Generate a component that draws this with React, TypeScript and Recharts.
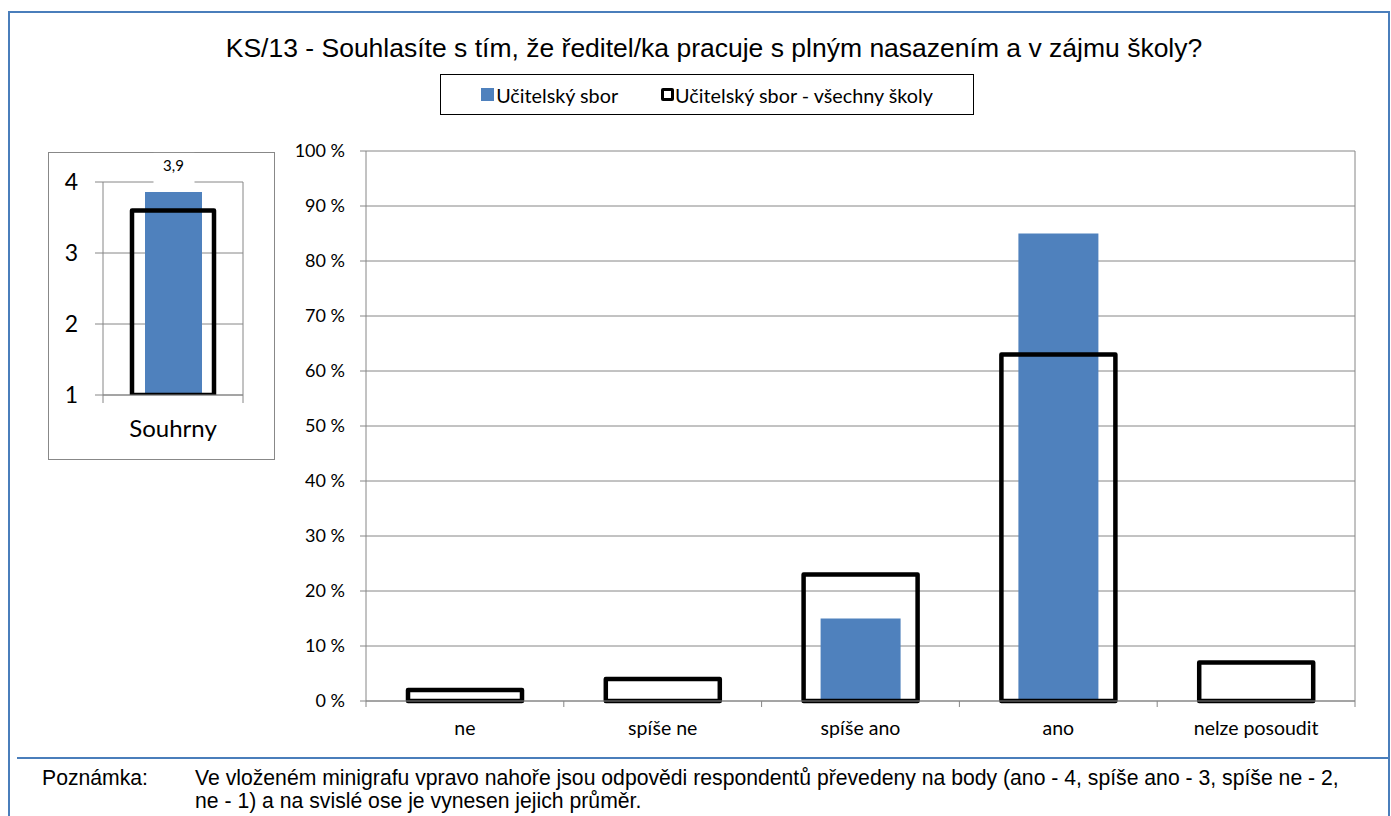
import React from 'react';
import { BarChart, Bar, XAxis, YAxis, CartesianGrid, LabelList } from 'recharts';

// ---- data ----
const categories = ['ne', 'spíše ne', 'spíše ano', 'ano', 'nelze posoudit'];
const schoolValues = [0, 0, 15, 85, 0];
const allSchoolsValues = [2, 4, 23, 63, 7];
const percentTicks = [0, 10, 20, 30, 40, 50, 60, 70, 80, 90, 100];

const summaryCategories = ['Souhrny'];
const summarySchool = [3.86];
const summaryAll = [3.6];
const summaryTicks = [1, 2, 3, 4];

const seriesNames = ['Učitelský sbor', 'Učitelský sbor - všechny školy'];
const titleText = 'KS/13 - Souhlasíte s tím, že ředitel/ka pracuje s plným nasazením a v zájmu školy?';
const noteLabel = 'Poznámka:';
const noteLines = [
  'Ve vloženém minigrafu vpravo nahoře jsou odpovědi respondentů převedeny na body (ano - 4, spíše ano - 3, spíše ne - 2,',
  'ne - 1) a na svislé ose je vynesen jejich průměr.',
];

const mainData = categories.map((c, i) => ({ category: c, school: schoolValues[i], all: allSchoolsValues[i] }));
const summaryData = summaryCategories.map((c, i) => ({ category: c, school: summarySchool[i], all: summaryAll[i] }));

const BLUE = '#4f81bd';
const FRAME = '#4a7ebb';
const GRID = '#868686';
const FONT = 'Lato, "Noto Sans", sans-serif';
const ARIAL = '"Liberation Sans", Arial, sans-serif';

const makeBoundaryTick = (tickLen: number, labelOffset: number, fontSize: number) => (props: any) => {
  const { x, y, payload, index, visibleTicksCount, width } = props;
  const count = visibleTicksCount || 1;
  const half = payload && typeof payload.offset === 'number' && payload.offset > 0 ? payload.offset : (width || 0) / count / 2;
  const isLast = index === count - 1;
  return (
    <g>
      <line x1={x - half} x2={x - half} y1={y} y2={y + tickLen} stroke={GRID} strokeWidth={1} />
      {isLast && <line x1={x + half} x2={x + half} y1={y} y2={y + tickLen} stroke={GRID} strokeWidth={1} />}
      <text x={x} y={y + labelOffset} textAnchor="middle" dominantBaseline="central" fontSize={fontSize} fontFamily={FONT} fill="#000">
        {payload.value}
      </text>
    </g>
  );
};

const MainTick = makeBoundaryTick(6, 26, 19.5);
const SummaryTick = makeBoundaryTick(8, 32, 24);

const SummaryLabel = (props: any) => {
  const { x, y, width, value } = props;
  const cx = Number(x) + Number(width) / 2;
  const top = Number(y);
  return (
    <g>
      <rect x={cx - 20} y={top - 39} width={41} height={34} fill="#fff" />
      <text x={cx} y={top - 27} textAnchor="middle" dominantBaseline="central" fontSize={15} fontFamily={FONT} fill="#000">
        {Number(value).toFixed(1).replace('.', ',')}
      </text>
    </g>
  );
};

const rightEdge = ({ offset }: any) => [offset.left + offset.width];

export default function App() {
  return (
    <div style={{ position: 'absolute', left: 0, top: 0, width: 1391, height: 816, overflow: 'hidden', background: '#fff' }}>
      {/* outer frame */}
      <div style={{ position: 'absolute', left: 8, top: 11, width: 1382, height: 900, boxSizing: 'border-box', border: `2px solid ${FRAME}` }} />
      {/* separator */}
      <div style={{ position: 'absolute', left: 17, top: 757, width: 1373, height: 2, background: FRAME }} />

      {/* title */}
      <div style={{ position: 'absolute', left: 214, top: 33, width: 1000, textAlign: 'center', fontFamily: ARIAL, fontSize: 26.5, lineHeight: '30px', color: '#000', whiteSpace: 'nowrap' }}>
        {titleText}
      </div>

      {/* legend */}
      <div style={{ position: 'absolute', left: 440, top: 74, width: 534, height: 41, boxSizing: 'border-box', border: '1.5px solid #000', display: 'flex', alignItems: 'center', justifyContent: 'center', fontFamily: FONT, fontSize: 19.8, color: '#000' }}>
        <span style={{ display: 'inline-block', width: 13, height: 13, background: BLUE, marginRight: 2 }} />
        <span style={{ marginRight: 43 }}>{seriesNames[0]}</span>
        <span style={{ display: 'inline-block', width: 13, height: 13, boxSizing: 'border-box', border: '3.5px solid #000', borderRadius: 2, background: '#fff', marginRight: 1 }} />
        <span>{seriesNames[1]}</span>
      </div>

      {/* mini chart box */}
      <div style={{ position: 'absolute', left: 48, top: 152, width: 227, height: 308, boxSizing: 'border-box', border: '1px solid #888' }} />
      <div style={{ position: 'absolute', left: 48, top: 152 }}>
        <BarChart width={227} height={308} data={summaryData} margin={{ top: 30, right: 32, bottom: 15, left: 10 }}>
          <CartesianGrid xAxisId="main" stroke={GRID} vertical={true} horizontal={true} verticalCoordinatesGenerator={rightEdge} />
          <XAxis xAxisId="main" dataKey="category" height={50} axisLine={{ stroke: GRID }} tickLine={false} tickSize={0} tickMargin={0} tick={SummaryTick} interval={0} />
          <XAxis xAxisId="overlay" dataKey="category" hide />
          <YAxis domain={[1, 4]} ticks={summaryTicks} width={45} axisLine={{ stroke: GRID }} tickLine={{ stroke: GRID }} tickSize={8} tickMargin={17} tick={{ fontSize: 23, fontFamily: FONT, fill: '#000' }} allowDataOverflow />
          <Bar xAxisId="main" dataKey="school" fill={BLUE} barSize={57} isAnimationActive={false}>
            <LabelList dataKey="school" content={SummaryLabel} />
          </Bar>
          <Bar xAxisId="overlay" dataKey="all" fill="none" stroke="#000" strokeWidth={4.5} strokeLinejoin="round" barSize={82} isAnimationActive={false} />
        </BarChart>
      </div>

      {/* main chart */}
      <div style={{ position: 'absolute', left: 270, top: 136 }}>
        <BarChart width={1100} height={620} data={mainData} margin={{ top: 15, right: 15, bottom: 10, left: 16 }}>
          <CartesianGrid xAxisId="main" stroke={GRID} vertical={true} horizontal={true} verticalCoordinatesGenerator={rightEdge} />
          <XAxis xAxisId="main" dataKey="category" height={45} axisLine={{ stroke: GRID }} tickLine={false} tickSize={0} tickMargin={0} tick={MainTick} interval={0} />
          <XAxis xAxisId="overlay" dataKey="category" hide />
          <YAxis domain={[0, 100]} ticks={percentTicks} width={80} axisLine={{ stroke: GRID }} tickLine={{ stroke: GRID }} tickSize={6} tickMargin={15} tickFormatter={(v: number) => `${v} %`} tick={{ fontSize: 18, fontFamily: FONT, fill: '#000' }} interval={0} />
          <Bar xAxisId="main" dataKey="school" fill={BLUE} barSize={80} isAnimationActive={false} />
          <Bar xAxisId="overlay" dataKey="all" fill="none" stroke="#000" strokeWidth={4.5} strokeLinejoin="round" barSize={114} isAnimationActive={false} />
        </BarChart>
      </div>

      {/* note */}
      <div style={{ position: 'absolute', left: 42, top: 766, fontFamily: ARIAL, fontSize: 21.2, lineHeight: '23px', color: '#000' }}>
        {noteLabel}
      </div>
      <div style={{ position: 'absolute', left: 195, top: 766, fontFamily: ARIAL, fontSize: 21.2, lineHeight: '23px', color: '#000', whiteSpace: 'nowrap' }}>
        {noteLines.map((l, i) => (
          <div key={i}>{l}</div>
        ))}
      </div>
    </div>
  );
}
